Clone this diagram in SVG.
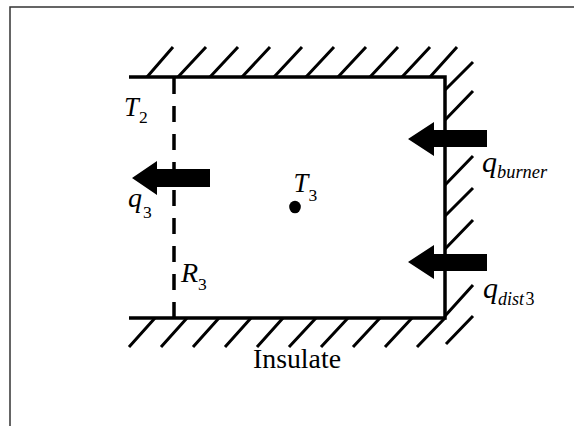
<svg xmlns="http://www.w3.org/2000/svg" width="574" height="426" viewBox="0 0 574 426">
<style>
.w{stroke:#000;stroke-width:3.5;fill:none}
.h{stroke:#000;stroke-width:3;fill:none}
.t{font-family:"Liberation Serif","Times New Roman",serif;fill:#000}
.i{font-style:italic}
.b{font-size:28px}
.c{font-size:26.500px}
.s{font-size:17.500px;font-style:normal}
</style>
<rect width="574" height="426" fill="#fff"/>
<path d="M10 426V7H574" fill="none" stroke="#333" stroke-width="1.5"/>
<g id="walls">
<path class="w" d="M129 77H445V318H129"/>
<path class="h" d="M173 47L147 77M206 47L178 77M238 47L210 77M270 47L242 77M302 47L274 77M334 47L306 77M366 47L338 77M398 47L370 77M430 47L402 77M457 47L430 77"/>
<path class="h" d="M473 62L445 90M473 91L445 120M473 156L445 185M473 188L445 216M473 220L445 249M473 285L445 316M473 316L446 344"/>
<path class="h" d="M155 318L129 347M187 318L161 347M219 318L193 347M251 318L225 347M283 318L257 347M316 318L289 347M348 318L321 347M380 318L353 347M412 318L385 347M445 318L417 347"/>
</g>
<g id="connectors">
<path class="w" stroke-dasharray="16 12" d="M174 78V317"/>
<path d="M132 178L157 161V169H210V187H157V195Z"/>
<path d="M408 139L434 122V130H487V147H434V156Z"/>
<path d="M408 262L434 245V254H487V271H434V279Z"/>
</g>
<g id="node-t3"><ellipse cx="295" cy="207" rx="5.800" ry="6.300"/>
<text class="t i c" x="293.500" y="192">T<tspan class="s" x="308.500" y="201">3</tspan></text></g>
<g id="label-t2"><text class="t i c" x="124" y="116">T<tspan class="s" x="139" y="123">2</tspan></text></g>
<g id="label-q3"><text class="t i b" x="128" y="207">q<tspan class="s" x="143" y="218">3</tspan></text></g>
<g id="label-r3"><text class="t i b" x="181" y="282">R<tspan class="s" x="198" y="290">3</tspan></text></g>
<g id="label-qburner"><text class="t i" x="482" y="172" font-size="30">q<tspan x="497" y="178" font-size="18.400">burner</tspan></text></g>
<g id="label-qdist"><text class="t i" x="483" y="298" font-size="30">q<tspan x="498" y="305" font-size="18">dist</tspan><tspan x="525.500" y="305" font-size="18" font-style="normal">3</tspan></text></g>
<g id="label-insulate"><text class="t" x="253" y="368" font-size="27.800">Insulate</text></g>
</svg>
